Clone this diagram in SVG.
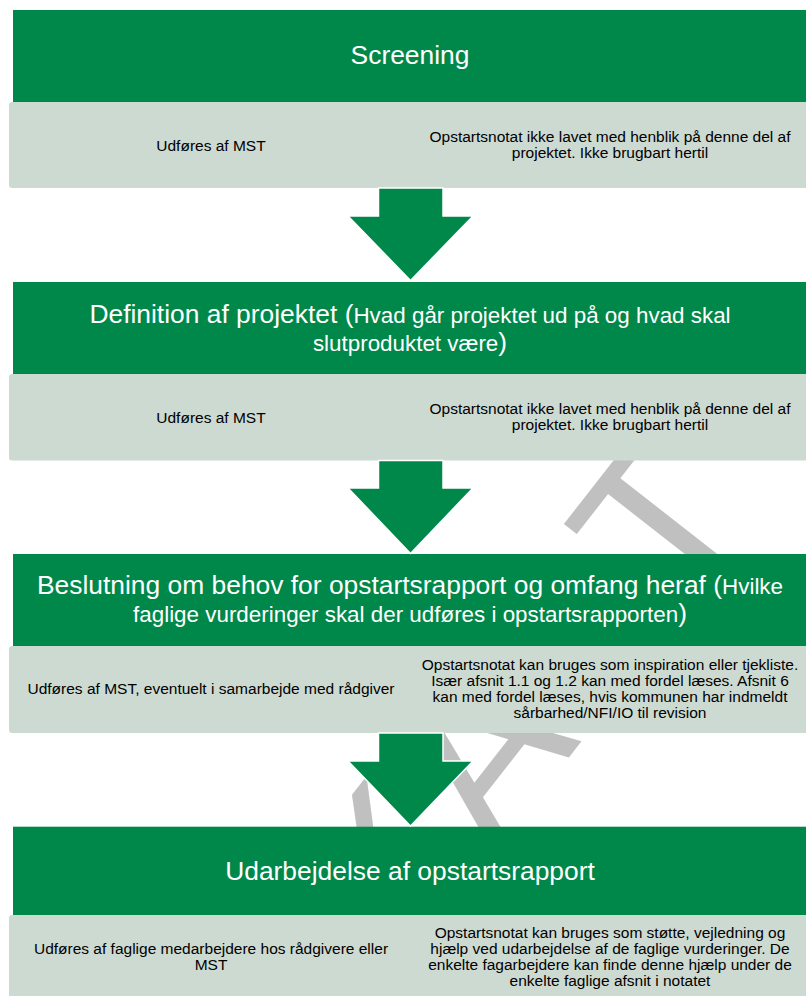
<svg xmlns="http://www.w3.org/2000/svg" width="806" height="996" viewBox="0 0 806 996">
  <style>
    .hdr { fill: #00884A; }
    .row { fill: #CDDAD1; }
    .ht { font-family: "Liberation Sans", Arial, sans-serif; fill: #FFFFFF; text-anchor: middle; }
    .big { font-size: 26.4px; }
    .small { font-size: 22.4px; }
    .bt { font-family: "Liberation Sans", Arial, sans-serif; font-size: 15.5px; fill: #000000; text-anchor: middle; }
    .arrow { fill: #00884A; stroke: #FFFFFF; stroke-width: 1.5; stroke-linejoin: miter; }
    .wm { font-family: "Liberation Sans", Arial, sans-serif; font-size: 215px; letter-spacing: 6px; fill: #C0C0C0; }
  </style>

  <rect width="806" height="996" fill="#FFFFFF"/>

  <!-- draft watermark behind the flow -->
  <g id="watermark">
    <text class="wm" transform="translate(203,1226) rotate(-52)">UDKAST</text>
  </g>

  <!-- step 1 -->
  <g id="step1">
    <rect class="hdr" x="13" y="10" width="800" height="92"/>
    <text class="ht big" x="410" y="63.5">Screening</text>
  </g>
  <g id="step1-info">
    <rect class="row" x="9" y="102" width="804" height="86" rx="3"/>
    <text class="bt" x="211" y="151">Udføres af MST</text>
    <text class="bt" x="610" y="141.5">Opstartsnotat ikke lavet med henblik på denne del af</text>
    <text class="bt" x="610" y="158">projektet. Ikke brugbart hertil</text>
  </g>

  <!-- step 2 -->
  <g id="step2">
    <rect class="hdr" x="13" y="282" width="800" height="92"/>
    <text class="ht" x="410" y="323"><tspan class="big">Definition af projektet (</tspan><tspan class="small">Hvad går projektet ud på og hvad skal</tspan></text>
    <text class="ht" x="410" y="350.5"><tspan class="small">slutproduktet være</tspan><tspan class="big">)</tspan></text>
  </g>
  <g id="step2-info">
    <rect class="row" x="9" y="374" width="804" height="86.5" rx="3"/>
    <text class="bt" x="211" y="423">Udføres af MST</text>
    <text class="bt" x="610" y="413.5">Opstartsnotat ikke lavet med henblik på denne del af</text>
    <text class="bt" x="610" y="430">projektet. Ikke brugbart hertil</text>
  </g>

  <!-- step 3 -->
  <g id="step3">
    <rect class="hdr" x="13" y="554" width="800" height="92"/>
    <text class="ht" x="410" y="594"><tspan class="big">Beslutning om behov for opstartsrapport og omfang heraf (</tspan><tspan class="small">Hvilke</tspan></text>
    <text class="ht" x="410" y="621.7"><tspan class="small">faglige vurderinger skal der udføres i opstartsrapporten</tspan><tspan class="big">)</tspan></text>
  </g>
  <g id="step3-info">
    <rect class="row" x="9" y="646" width="804" height="87" rx="3"/>
    <text class="bt" x="211" y="694">Udføres af MST, eventuelt i samarbejde med rådgiver</text>
    <text class="bt" x="610" y="670">Opstartsnotat kan bruges som inspiration eller tjekliste.</text>
    <text class="bt" x="610" y="686">Især afsnit 1.1 og 1.2 kan med fordel læses. Afsnit 6</text>
    <text class="bt" x="610" y="702.2">kan med fordel læses, hvis kommunen har indmeldt</text>
    <text class="bt" x="610" y="718.3">sårbarhed/NFI/IO til revision</text>
  </g>

  <!-- step 4 -->
  <g id="step4">
    <rect class="hdr" x="13" y="826.7" width="800" height="88.3"/>
    <text class="ht big" x="410" y="880">Udarbejdelse af opstartsrapport</text>
  </g>
  <g id="step4-info">
    <rect class="row" x="9" y="915" width="804" height="90" rx="3"/>
    <text class="bt" x="211" y="954">Udføres af faglige medarbejdere hos rådgivere eller</text>
    <text class="bt" x="211" y="970">MST</text>
    <text class="bt" x="610" y="938.3">Opstartsnotat kan bruges som støtte, vejledning og</text>
    <text class="bt" x="610" y="954">hjælp ved udarbejdelse af de faglige vurderinger. De</text>
    <text class="bt" x="610" y="970">enkelte fagarbejdere kan finde denne hjælp under de</text>
    <text class="bt" x="610" y="986">enkelte faglige afsnit i notatet</text>
  </g>

  <!-- block arrows between steps -->
  <g id="connectors">
    <polygon class="arrow" points="378.5,188 443,188 443,216 473,216 410.5,280.5 348,216 378.5,216"/>
    <polygon class="arrow" points="378.5,460.5 443,460.5 443,488 473,488 410.5,553.5 348,488 378.5,488"/>
    <polygon class="arrow" points="378.5,733 443,733 443,761 473,761 410.5,826 348,761 378.5,761"/>
  </g>
</svg>
